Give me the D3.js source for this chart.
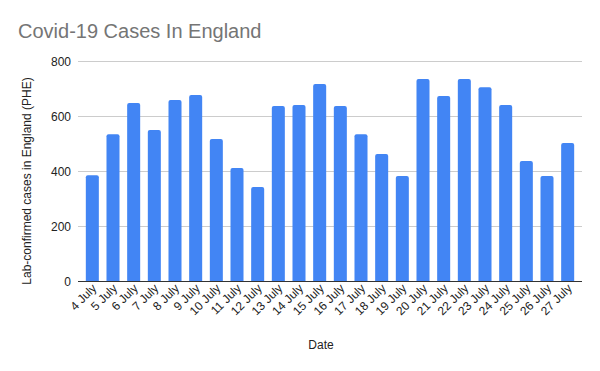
<!DOCTYPE html>
<html>
<head>
<meta charset="utf-8">
<script src="https://cdn.jsdelivr.net/npm/d3@7"></script>
<style>
  html, body { margin: 0; padding: 0; background: #fff; }
  svg { display: block; font-family: Arial, "Liberation Sans", sans-serif; }
</style>
</head>
<body>
<div id="chart"></div>
<script>
// ── Data ──────────────────────────────────────────────────────────────────
const dates = ["4 July", "5 July", "6 July", "7 July", "8 July", "9 July", "10 July", "11 July",
  "12 July", "13 July", "14 July", "15 July", "16 July", "17 July", "18 July", "19 July",
  "20 July", "21 July", "22 July", "23 July", "24 July", "25 July", "26 July", "27 July"];
const cases = [385, 534, 647, 549, 658, 676, 516, 411, 342, 636, 640, 716,
  636, 534, 462, 382, 735, 673, 735, 705, 640, 436, 382, 502];
const yTicks = [0, 200, 400, 600, 800];

const width = 600, height = 371;
const plot = { left: 78, right: 582, top: 61, bottom: 281 };

const svg = d3.select("#chart").append("svg").attr("width", width).attr("height", height);

const x = d3.scaleBand().domain(dates).range([82, 578]).paddingInner(0.37).paddingOuter(0.185);
const y = d3.scaleLinear().domain([0, 800]).range([plot.bottom, plot.top]);

// ── Gridlines ─────────────────────────────────────────────────────────────
svg.append("g").selectAll("line")
  .data(yTicks.filter(t => t > 0)).join("line")
  .attr("x1", plot.left).attr("x2", plot.right)
  .attr("y1", d => Math.round(y(d)) + 0.5).attr("y2", d => Math.round(y(d)) + 0.5)
  .attr("stroke", "#cccccc").attr("stroke-width", 1);

// ── Y labels ──────────────────────────────────────────────────────────────
svg.append("g").selectAll("text")
  .data(yTicks).join("text")
  .attr("x", 71).attr("y", d => y(d) + 4.5)
  .attr("text-anchor", "end")
  .attr("font-size", "12px").attr("fill", "#222")
  .text(d => d);

// ── Bars ──────────────────────────────────────────────────────────────────
svg.append("g").selectAll("path")
  .data(cases).join("path")
  .attr("fill", "#4285f4")
  .attr("d", (d, i) => {
    const x0 = x(dates[i]), w = x.bandwidth(), top = y(d), bot = y(0), r = 2;
    return `M${x0},${bot}V${top + r}Q${x0},${top} ${x0 + r},${top}H${x0 + w - r}Q${x0 + w},${top} ${x0 + w},${top + r}V${bot}Z`;
  });

// ── Baseline ──────────────────────────────────────────────────────────────
svg.append("line")
  .attr("x1", plot.left).attr("x2", plot.right)
  .attr("y1", Math.round(y(0)) + 0.5).attr("y2", Math.round(y(0)) + 0.5)
  .attr("stroke", "#333").attr("stroke-width", 1);

// ── X labels ──────────────────────────────────────────────────────────────
svg.append("g").selectAll("text")
  .data(dates).join("text")
  .attr("transform", d => `translate(${x(d) + x.bandwidth() / 2 + 5},${plot.bottom + 8}) rotate(-45)`)
  .attr("text-anchor", "end")
  .attr("font-size", "12px").attr("fill", "#222")
  .text(d => d);

// ── Titles ────────────────────────────────────────────────────────────────
svg.append("text")
  .attr("x", 18).attr("y", 38)
  .attr("font-size", "20px").attr("fill", "#757575")
  .text("Covid-19 Cases In England");

svg.append("text")
  .attr("transform", "translate(31,181) rotate(-90)")
  .attr("text-anchor", "middle")
  .attr("font-size", "12px").attr("fill", "#222")
  .text("Lab-confirmed cases in England (PHE)");

svg.append("text")
  .attr("x", 321).attr("y", 349)
  .attr("text-anchor", "middle")
  .attr("font-size", "12px").attr("fill", "#222")
  .text("Date");
</script>
</body>
</html>
